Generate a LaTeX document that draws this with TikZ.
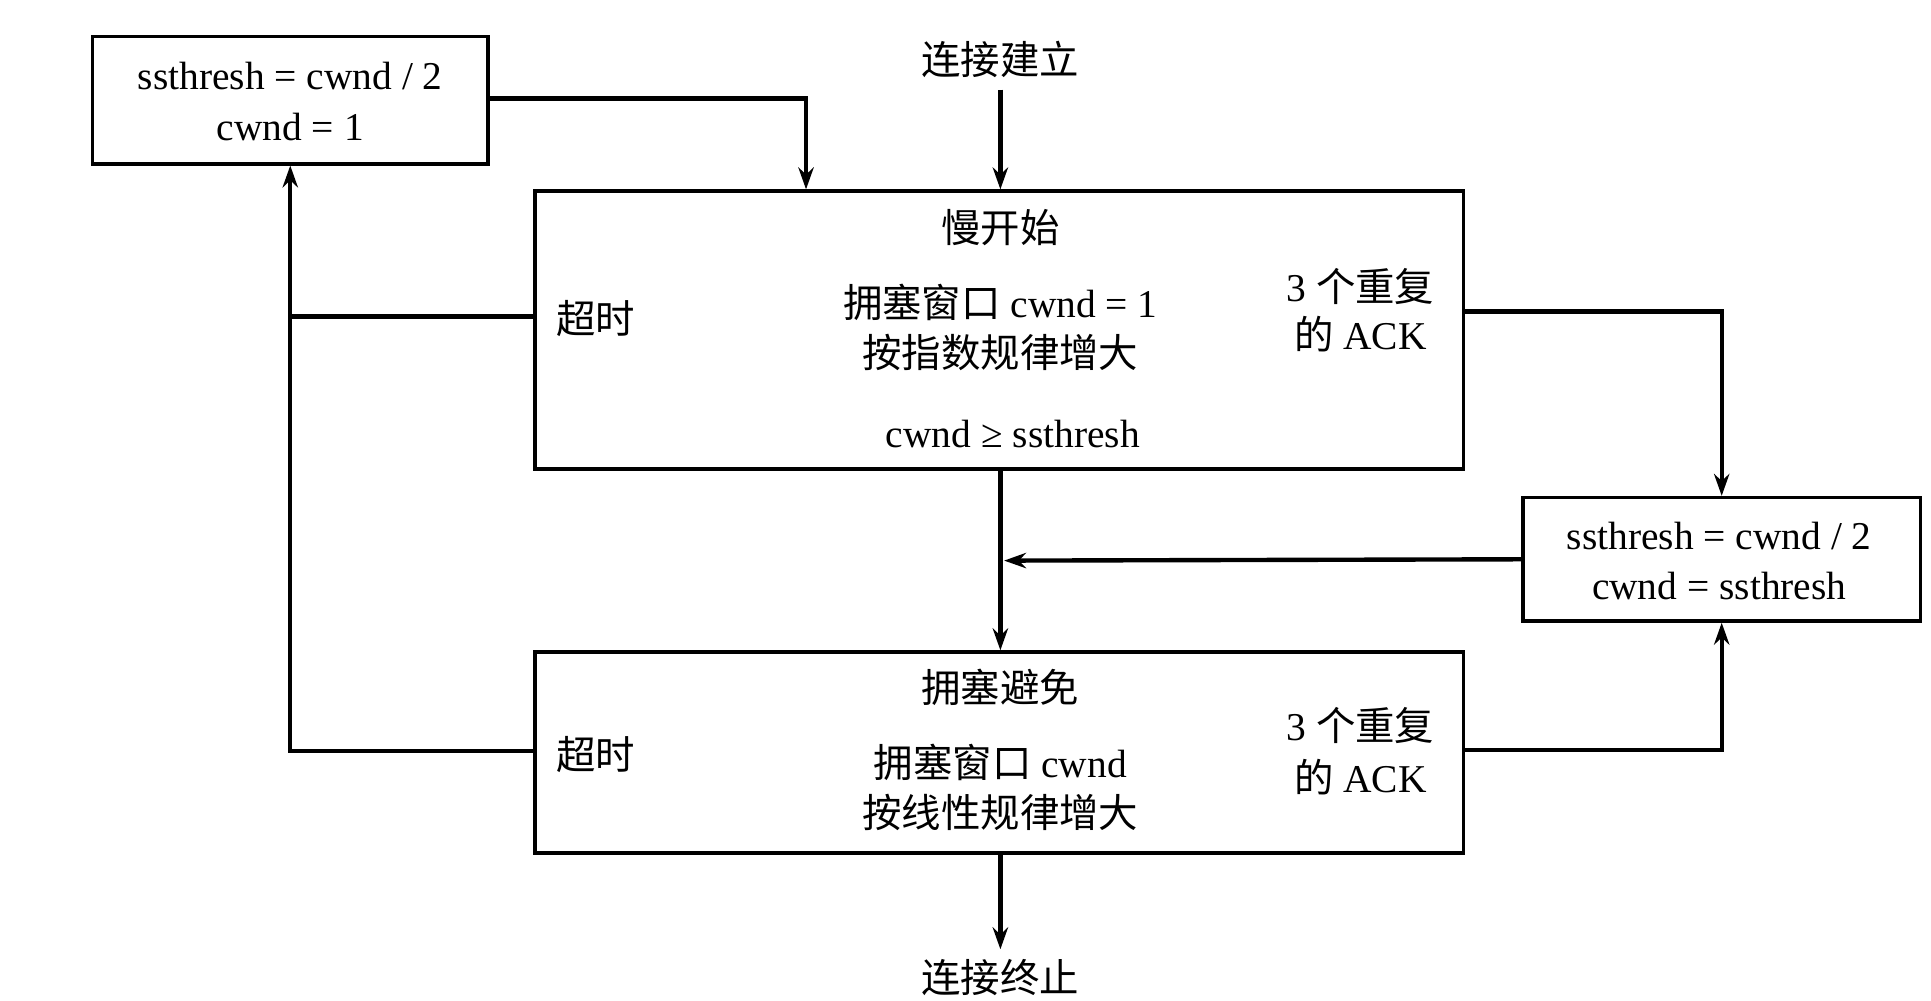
\documentclass[tikz,border=0pt]{standalone}
\usepackage{fontspec}
\setmainfont{Liberation Serif}
\newfontfamily\cjk{Noto Sans CJK SC}
\usetikzlibrary{arrows.meta}
\begin{document}
\begin{tikzpicture}[x=0.01cm,y=-0.01cm,
  every node/.style={font=\fontsize{9}{11}\selectfont, inner sep=0pt},
  box/.style={draw, line width=0.8pt, inner sep=0pt, anchor=north west},
  ln/.style={line width=1pt},
  ar/.style={ln,-{Stealth[length=5pt,width=3.5pt]}}]
\useasboundingbox (0,0) rectangle (1550,803);
% boxes
\node[box, minimum width=3.17cm, minimum height=1.02cm] (tl) at (73,28) {};
\node[box, minimum width=7.45cm, minimum height=2.23cm] (ssbox) at (428,152) {};
\node[box, minimum width=3.19cm, minimum height=0.99cm] (rbox) at (1221,398) {};
\node[box, minimum width=7.45cm, minimum height=1.61cm] (cabox) at (428,522) {};
% texts
\node at (233,61) {ssthresh = cwnd / 2};
\node at (233,102) {cwnd = 1};
\node (start) at (803,48) {\cjk 连接建立};
\node (ss) at (803,183) {\cjk 慢开始};
\node (ss1) at (803,243) {{\cjk 拥塞窗口} cwnd = 1};
\node (ss2) at (803,283) {\cjk 按指数规律增大};
\node (ss3) at (813,348) {cwnd ≥ ssthresh};
\node (to1) at (478,256) {\cjk 超时};
\node (d1a) at (1092,230) {3 {\cjk 个重复}};
\node (d1b) at (1092,268) {{\cjk 的} ACK};
\node (r1) at (1380,430) {ssthresh = cwnd / 2};
\node (r2) at (1380,470) {cwnd = ssthresh};
\node (ca) at (803,552) {\cjk 拥塞避免};
\node (ca1) at (803,612) {{\cjk 拥塞窗口} cwnd};
\node (ca2) at (803,652) {\cjk 按线性规律增大};
\node (to2) at (478,606) {\cjk 超时};
\node (d2a) at (1092,582) {3 {\cjk 个重复}};
\node (d2b) at (1092,624) {{\cjk 的} ACK};
\node (end) at (803,785) {\cjk 连接终止};
% connectors
\draw[ar] (tl.east |- 0,79) -| (ssbox.north west -| 647,0);
\draw[ar] (803,72) -- (ssbox.north -| 803,0);
\draw[ar] (ssbox.south -| 803,0) -- (cabox.north -| 803,0);
\draw[ar] (rbox.west) -- (806,450);
\draw[ar] (ssbox.east |- 0,250) -| (rbox.north);
\draw[ar] (cabox.east |- 0,602) -| (rbox.south);
\draw[ln] (ssbox.west |- 0,254) -- (233,254);
\draw[ar] (cabox.west |- 0,603) -| (tl.south);
\draw[ar] (cabox.south -| 803,0) -- (803,762);
\end{tikzpicture}
\end{document}
